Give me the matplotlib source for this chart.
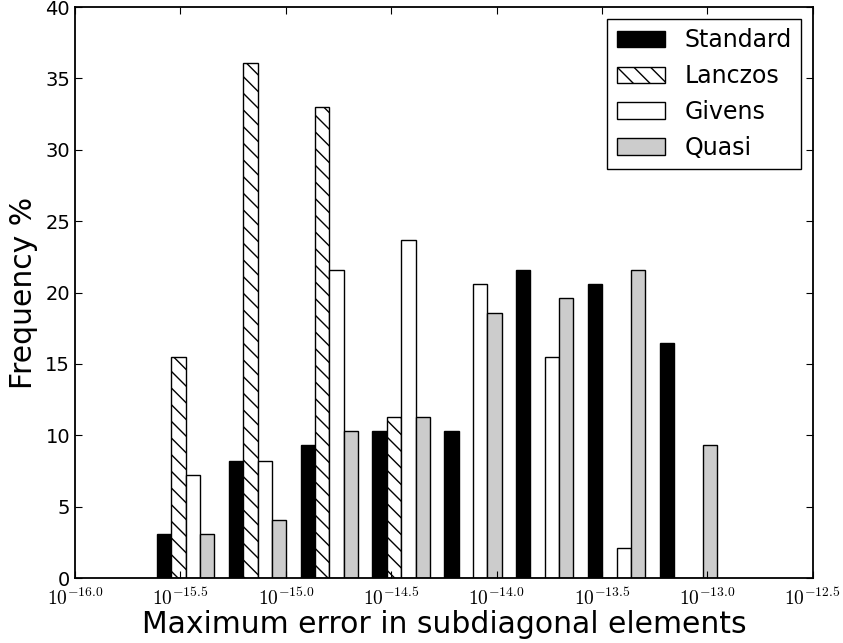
import matplotlib
matplotlib.use("Agg")
import numpy as np
import matplotlib.pyplot as plt

# Frequency (%) per bin of log10(max subdiagonal error)
series_names = ["Standard", "Lanczos", "Givens", "Quasi"]
standard = [3.1, 8.2, 9.3, 10.3, 10.3, 21.6, 20.6, 16.5]
lanczos = [15.5, 36.1, 33.0, 11.3, 0.0, 0.0, 0.0, 0.0]
givens = [7.2, 8.2, 21.6, 23.7, 20.6, 15.5, 2.1, 0.0]
quasi = [3.1, 4.1, 10.3, 11.3, 18.6, 19.6, 21.6, 9.3]

x_ticks = [-16.0, -15.5, -15.0, -14.5, -14.0, -13.5, -13.0, -12.5]

# bin layout (log10 units)
BIN_LEFT = -15.645
BIN_WIDTH = 0.3407
RWIDTH = 0.8

plt.rcParams.update({
    "font.family": "DejaVu Sans",
    "mathtext.fontset": "cm",
    "xtick.direction": "in",
    "ytick.direction": "in",
    "xtick.top": True,
    "ytick.right": True,
    "xtick.major.size": 5,
    "ytick.major.size": 5,
    "axes.linewidth": 1.3,
    "hatch.linewidth": 1.0,
})

fig = plt.figure(figsize=(8.43, 6.43), dpi=100)
ax = fig.add_axes([0.089, 0.101, 0.875, 0.888])

all_series = [standard, lanczos, givens, quasi]
styles = [
    dict(facecolor="black", hatch=None),
    dict(facecolor="white", hatch="\\\\"),
    dict(facecolor="white", hatch=None),
    dict(facecolor="0.8", hatch=None),
]

n_bins = len(standard)
edges = BIN_LEFT + BIN_WIDTH * np.arange(n_bins)
bar_w = BIN_WIDTH * RWIDTH / len(all_series)
start = edges + BIN_WIDTH * (1 - RWIDTH) / 2

for i, (name, vals, st) in enumerate(zip(series_names, all_series, styles)):
    ax.bar(start + i * bar_w, vals, width=bar_w, align="edge",
           facecolor=st["facecolor"], hatch=st["hatch"],
           edgecolor="black", linewidth=1.0, label=name)

ax.set_xlim(-16.0, -12.5)
ax.set_ylim(0, 40)
ax.set_xticks(x_ticks)
ax.set_xticklabels([r"$10^{%.1f}$" % t for t in x_ticks], fontsize=14)
ax.tick_params(axis="x", pad=7)
ax.set_yticks(range(0, 41, 5))
ax.tick_params(axis="y", labelsize=14)

ax.set_xlabel("Maximum error in subdiagonal elements", fontsize=21.5, labelpad=1)
ax.set_ylabel("Frequency %", fontsize=21.5, labelpad=5)

leg = ax.legend(loc="upper right", fontsize=17, fancybox=False,
                framealpha=1, edgecolor="black", handlelength=2.05)
leg.get_frame().set_linewidth(1.0)

fig.savefig("out.png", dpi=100, facecolor="white")
